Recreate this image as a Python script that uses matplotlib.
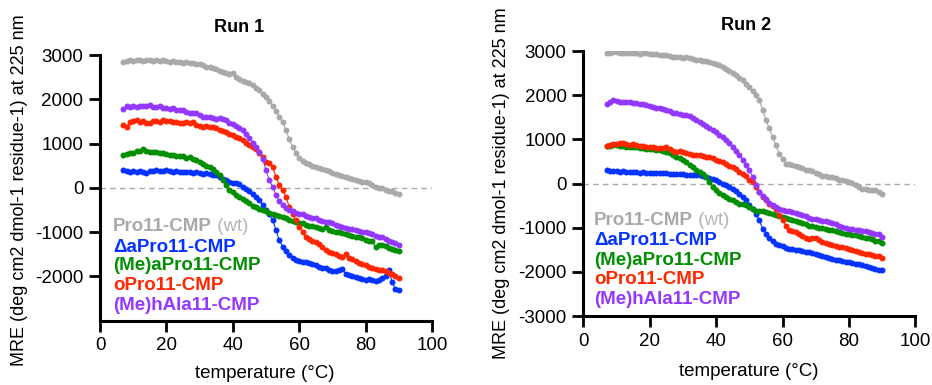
import numpy as np
import matplotlib
matplotlib.use('Agg')
import matplotlib.pyplot as plt

plt.rcParams['font.family'] = ['Liberation Sans', 'DejaVu Sans']
plt.rcParams['axes.unicode_minus'] = False

temps = np.arange(7, 91)

names = ['Pro11-CMP', '\u0394aPro11-CMP', '(Me)aPro11-CMP', 'oPro11-CMP', '(Me)hAla11-CMP']
colors = ['#a9a9a9', '#0433ff', '#008f00', '#ff2600', '#9437ff']

# run 1
wt_1 = [2840, 2860, 2880, 2870, 2890, 2880, 2870, 2890, 2880, 2870, 2880, 2860, 2880, 2870,
        2850, 2860, 2840, 2850, 2830, 2840, 2810, 2820, 2800, 2790, 2770, 2740, 2720, 2700,
        2680, 2650, 2620, 2600, 2580, 2600, 2500, 2450, 2420, 2390, 2360, 2320, 2260, 2200,
        2120, 2050, 1960, 1850, 1740, 1600, 1480, 1300, 1100, 920, 780, 680, 610, 560,
        530, 500, 480, 460, 430, 400, 370, 340, 320, 300, 270, 240, 220, 200,
        170, 150, 140, 140, 100, 60, 30, 0, -10, -40, -60, -80, -110, -130]
dap_1 = [410, 380, 350, 370, 360, 380, 360, 340, 370, 380, 400, 390, 380, 400,
         370, 350, 380, 360, 360, 350, 360, 340, 350, 340, 320, 330, 310, 300,
         280, 250, 200, 170, 130, 100, 110, 90, 30, -20, -80, -130, -200, -280,
         -380, -500, -600, -730, -950, -1180, -1330, -1430, -1520, -1580, -1630, -1650, -1670, -1680,
         -1700, -1720, -1740, -1780, -1800, -1820, -1860, -1870, -1880, -1850, -1830, -1940, -1970, -2000,
         -2010, -2040, -2050, -2070, -2060, -2090, -2110, -2080, -2040, -1990, -1850, -2130, -2290, -2310]
meap_1 = [740, 760, 780, 790, 830, 840, 870, 830, 810, 820, 800, 790, 780, 760,
          740, 750, 730, 730, 710, 680, 690, 660, 620, 590, 550, 500, 470, 420,
          360, 280, 170, 60, -50, -100, -170, -210, -250, -300, -350, -400, -430, -470,
          -500, -530, -560, -600, -620, -640, -650, -680, -720, -740, -760, -790, -800, -830,
          -850, -860, -880, -900, -920, -880, -950, -970, -990, -1000, -1020, -1040, -1060, -1080,
          -1100, -1120, -1140, -1170, -1190, -1210, -1330, -1300, -1290, -1320, -1350, -1370, -1400, -1420]
opro_1 = [1410, 1370, 1480, 1510, 1530, 1480, 1500, 1470, 1470, 1500, 1510, 1490, 1530, 1520,
          1510, 1490, 1480, 1470, 1460, 1480, 1470, 1490, 1430, 1390, 1380, 1400, 1370, 1380,
          1350, 1310, 1290, 1260, 1220, 1190, 1150, 1120, 1080, 1020, 960, 920, 880, 780,
          700, 590, 560, 470, 250, 60, -50, -200, -430, -580, -720, -880, -1000, -1100,
          -1150, -1200, -1220, -1260, -1340, -1400, -1450, -1480, -1500, -1530, -1560, -1490, -1590, -1610,
          -1650, -1690, -1720, -1740, -1780, -1800, -1840, -1850, -1860, -1880, -1920, -1940, -1990, -2040]
meha_1 = [1790, 1840, 1830, 1840, 1820, 1850, 1840, 1860, 1870, 1830, 1820, 1840, 1810, 1810,
          1790, 1800, 1770, 1760, 1750, 1720, 1700, 1680, 1680, 1640, 1610, 1590, 1600, 1570,
          1560, 1580, 1550, 1540, 1470, 1440, 1400, 1350, 1300, 1220, 1120, 1020, 920, 800,
          660, 400, 170, 20, -160, -300, -390, -450, -490, -520, -560, -580, -600, -630,
          -650, -670, -690, -720, -740, -760, -780, -800, -830, -850, -880, -900, -920, -940,
          -950, -970, -990, -1000, -1030, -1050, -1080, -1100, -1120, -1160, -1190, -1220, -1250, -1290]

# run 2
wt_2 = [2950, 2970, 2990, 2980, 2960, 2970, 2950, 2970, 2960, 2960, 2940, 2950, 2950, 2940,
        2930, 2940, 2910, 2920, 2910, 2890, 2880, 2880, 2870, 2850, 2860, 2840, 2820, 2810,
        2800, 2780, 2770, 2760, 2740, 2720, 2690, 2650, 2600, 2550, 2500, 2460, 2400, 2340,
        2260, 2190, 2100, 2000, 1890, 1670, 1440, 1250, 1060, 870, 680, 560, 450, 440,
        420, 400, 380, 350, 320, 300, 280, 230, 210, 180, 170, 150, 150, 120,
        90, 80, 50, 40, 10, -30, -80, -110, -130, -140, -150, -150, -190, -230]
dap_2 = [300, 290, 280, 280, 270, 280, 270, 270, 260, 260, 250, 270, 250, 250,
         240, 240, 230, 240, 230, 220, 220, 210, 220, 210, 200, 200, 190, 200,
         190, 170, 150, 130, 100, 80, 40, 0, -40, -80, -110, -160, -230, -300,
         -380, -490, -570, -680, -830, -1020, -1130, -1220, -1300, -1360, -1400, -1420, -1450, -1470,
         -1490, -1500, -1510, -1530, -1540, -1550, -1580, -1600, -1620, -1640, -1660, -1680, -1700, -1720,
         -1740, -1750, -1770, -1780, -1800, -1820, -1830, -1850, -1870, -1890, -1910, -1930, -1950, -1960]
meap_2 = [850, 860, 870, 870, 860, 850, 840, 840, 830, 820, 810, 800, 790, 780,
          780, 770, 770, 750, 720, 690, 650, 610, 570, 530, 480, 430, 380, 320,
          270, 210, 150, 40, -70, -150, -210, -260, -300, -340, -380, -410, -450, -470,
          -490, -530, -570, -610, -620, -630, -640, -660, -690, -720, -740, -760, -780, -800,
          -830, -850, -870, -900, -920, -950, -960, -980, -1000, -1010, -1030, -1040, -1060, -1080,
          -1090, -1110, -1130, -1150, -1160, -1170, -1190, -1210, -1220, -1240, -1260, -1290, -1310, -1340]
opro_2 = [850, 870, 900, 890, 910, 910, 890, 880, 890, 880, 860, 850, 840, 830,
          820, 810, 800, 810, 820, 780, 740, 720, 750, 720, 700, 680, 660, 650,
          640, 620, 600, 610, 570, 540, 510, 480, 450, 410, 380, 330, 270, 220,
          170, 80, 40, -80, -190, -300, -380, -450, -500, -570, -700, -830, -950, -1040,
          -1070, -1100, -1150, -1190, -1230, -1250, -1240, -1220, -1280, -1320, -1350, -1370, -1400, -1410,
          -1430, -1440, -1460, -1470, -1500, -1530, -1550, -1570, -1590, -1600, -1610, -1630, -1650, -1690]
meha_2 = [1800, 1860, 1890, 1870, 1860, 1850, 1860, 1840, 1830, 1830, 1810, 1800, 1780, 1750,
          1740, 1720, 1710, 1690, 1660, 1640, 1610, 1590, 1570, 1550, 1560, 1540, 1480, 1440,
          1400, 1350, 1300, 1250, 1210, 1170, 1110, 1050, 980, 910, 830, 740, 640, 530,
          420, 300, 150, -40, -190, -270, -340, -440, -490, -530, -570, -600, -610, -620,
          -640, -660, -680, -710, -740, -770, -790, -810, -830, -840, -850, -870, -890, -920,
          -950, -980, -1000, -1020, -1030, -1050, -1060, -1070, -1070, -1090, -1110, -1130, -1150, -1210]

runs = [[wt_1, dap_1, meap_1, opro_1, meha_1],
        [wt_2, dap_2, meap_2, opro_2, meha_2]]

fig = plt.figure(figsize=(9.32, 3.85), dpi=100)
ax1 = fig.add_axes([0.1073, 0.167, 0.3562, 0.690])
ax2 = fig.add_axes([0.6259, 0.179, 0.3562, 0.688])

legend_y = [[0.353, 0.277, 0.206, 0.134, 0.059],
            [0.362, 0.287, 0.211, 0.140, 0.064]]
legend_x = [0.039, 0.032]

for i, ax in enumerate([ax1, ax2]):
    ax.axhline(0, color='#aaaaaa', lw=1, ls=(0, (4, 3)), zorder=1)
    for series, c in zip(runs[i], colors):
        ax.plot(temps, series, color=c, lw=0.8, marker='o', ms=4.3, mew=0, zorder=2)
    ax.set_xlim(0, 100)
    ax.set_ylim(-3000, 3000)
    ax.set_xticks([0, 20, 40, 60, 80, 100])
    if i == 0:
        ax.set_yticks([-2000, -1000, 0, 1000, 2000, 3000])
    else:
        ax.set_yticks([-3000, -2000, -1000, 0, 1000, 2000, 3000])
    for s in ['top', 'right']:
        ax.spines[s].set_visible(False)
    for s in ['left', 'bottom']:
        ax.spines[s].set_linewidth(2.2)
    ax.tick_params(length=8, width=2, labelsize=13.5, pad=4)

    for k, (name, c) in enumerate(zip(names, colors)):
        t = ax.text(legend_x[i], legend_y[i][k], name, color=c, fontsize=13.5,
                    fontweight='bold', transform=ax.transAxes, va='center', ha='left')
        if k == 0:
            ax.annotate(' (wt)', xy=(1, 0), xycoords=t, color='#b5b5b5',
                        fontsize=13.5, va='bottom', ha='left')

fig.text(239 / 932, 1 - 27 / 385, 'Run 1', fontsize=13, fontweight='bold', ha='center', va='center')
fig.text(746 / 932, 1 - 25 / 385, 'Run 2', fontsize=13, fontweight='bold', ha='center', va='center')
ylab = 'MRE (deg cm2 dmol-1 residue-1) at 225 nm'
fig.text(20 / 932, 1 - 190 / 385, ylab, fontsize=13, rotation=90, ha='center', va='center')
fig.text(502 / 932, 1 - 183 / 385, ylab, fontsize=13, rotation=90, ha='center', va='center')
fig.text(265 / 932, 1 - 374 / 385, 'temperature (\u00b0C)', fontsize=13.5, ha='center', va='center')
fig.text(749 / 932, 1 - 372 / 385, 'temperature (\u00b0C)', fontsize=13.5, ha='center', va='center')

fig.savefig('out.png', dpi=100)
